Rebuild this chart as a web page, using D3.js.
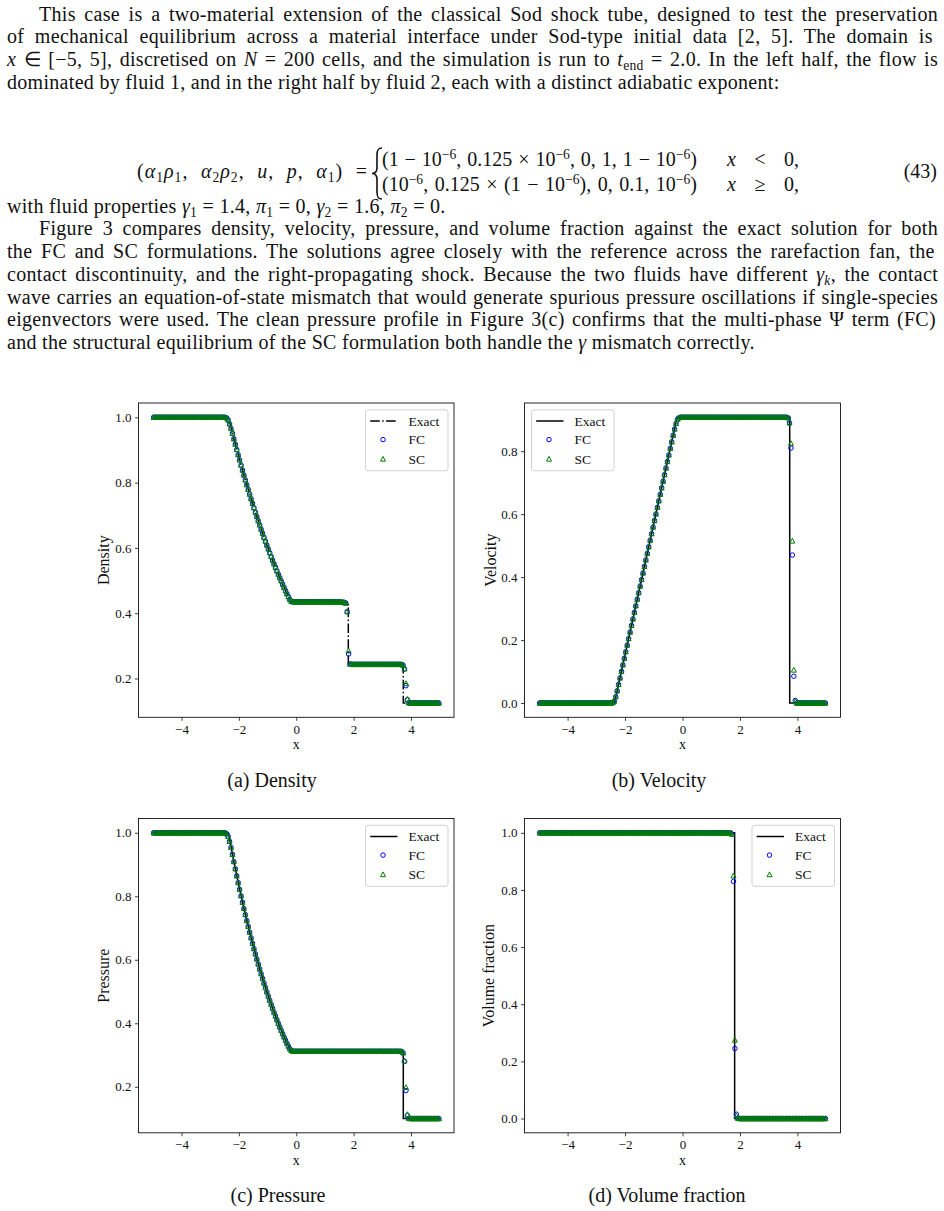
<!DOCTYPE html>
<html><head><meta charset="utf-8">
<script src="https://cdn.jsdelivr.net/npm/d3@7"></script>
<style>
html,body{margin:0;padding:0;background:#fff;}
svg text{font-family:"Liberation Serif","Times New Roman",serif;fill:#111;}
</style></head><body>
<script>
// ---------------- DATA ----------------
const xCells = [
-4.975,-4.925,-4.875,-4.825,-4.775,-4.725,-4.675,-4.625,-4.575,-4.525,
-4.475,-4.425,-4.375,-4.325,-4.275,-4.225,-4.175,-4.125,-4.075,-4.025,
-3.975,-3.925,-3.875,-3.825,-3.775,-3.725,-3.675,-3.625,-3.575,-3.525,
-3.475,-3.425,-3.375,-3.325,-3.275,-3.225,-3.175,-3.125,-3.075,-3.025,
-2.975,-2.925,-2.875,-2.825,-2.775,-2.725,-2.675,-2.625,-2.575,-2.525,
-2.475,-2.425,-2.375,-2.325,-2.275,-2.225,-2.175,-2.125,-2.075,-2.025,
-1.975,-1.925,-1.875,-1.825,-1.775,-1.725,-1.675,-1.625,-1.575,-1.525,
-1.475,-1.425,-1.375,-1.325,-1.275,-1.225,-1.175,-1.125,-1.075,-1.025,
-0.975,-0.925,-0.875,-0.825,-0.775,-0.725,-0.675,-0.625,-0.575,-0.525,
-0.475,-0.425,-0.375,-0.325,-0.275,-0.225,-0.175,-0.125,-0.075,-0.025,
0.025,0.075,0.125,0.175,0.225,0.275,0.325,0.375,0.425,0.475,
0.525,0.575,0.625,0.675,0.725,0.775,0.825,0.875,0.925,0.975,
1.025,1.075,1.125,1.175,1.225,1.275,1.325,1.375,1.425,1.475,
1.525,1.575,1.625,1.675,1.725,1.775,1.825,1.875,1.925,1.975,
2.025,2.075,2.125,2.175,2.225,2.275,2.325,2.375,2.425,2.475,
2.525,2.575,2.625,2.675,2.725,2.775,2.825,2.875,2.925,2.975,
3.025,3.075,3.125,3.175,3.225,3.275,3.325,3.375,3.425,3.475,
3.525,3.575,3.625,3.675,3.725,3.775,3.825,3.875,3.925,3.975,
4.025,4.075,4.125,4.175,4.225,4.275,4.325,4.375,4.425,4.475,
4.525,4.575,4.625,4.675,4.725,4.775,4.825,4.875,4.925,4.975];

const densityFC = [
1,1,1,1,1,1,1,1,1,1, 1,1,1,1,1,1,1,1,1,1, 1,1,1,1,1,1,1,1,1,1, 1,1,1,1,1,1,1,1,1,1, 1,1,1,1,1,1,1,1,1,1,
0.9998,0.998,0.992,0.980,0.966,0.9512,0.9344,0.9178,0.9015,0.8854,
0.8696,0.8539,0.8385,0.8233,0.8084,0.7936,0.7791,0.7648,0.7507,0.7368,
0.7231,0.7096,0.6963,0.6833,0.6704,0.6577,0.6452,0.6329,0.6208,0.6088,
0.5971,0.5855,0.5741,0.5629,0.5519,0.5410,0.5303,0.5198,0.5095,0.4993,
0.4893,0.4794,0.4697,0.4602,0.4510,0.4425,0.4370,0.4352,0.4349,0.4349,
0.4349,0.4349,0.4349,0.4349,0.4349,0.4349,0.4349,0.4349,0.4349,0.4349,
0.4349,0.4349,0.4349,0.4349,0.4349,0.4349,0.4349,0.4349,0.4349,0.4349,
0.4349,0.4349,0.4349,0.4349,0.4349,0.4349,0.4349,0.4349,0.4349,0.4349,
0.4346,0.4342,0.4337,0.4330,0.4310,0.405,0.275,0.2445,0.2434,0.2434,
0.2434,0.2434,0.2434,0.2434,0.2434,0.2434,0.2434,0.2434,0.2434,0.2434,
0.2434,0.2434,0.2434,0.2434,0.2434,0.2434,0.2434,0.2434,0.2434,0.2434,
0.2434,0.2434,0.2434,0.2434,0.2434,0.2434,0.2434,0.2434,0.2434,0.2434,
0.2434,0.2434,0.2433,0.2430,0.241,0.229,0.178,0.135,0.1258,0.125,
0.125,0.125,0.125,0.125,0.125,0.125,0.125,0.125,0.125,0.125,
0.125,0.125,0.125,0.125,0.125,0.125,0.125,0.125,0.125,0.125];

const densitySC = [
1,1,1,1,1,1,1,1,1,1, 1,1,1,1,1,1,1,1,1,1, 1,1,1,1,1,1,1,1,1,1, 1,1,1,1,1,1,1,1,1,1, 1,1,1,1,1,1,1,1,1,1,
0.9998,0.998,0.992,0.980,0.966,0.9512,0.9344,0.9178,0.9015,0.8854,
0.8696,0.8539,0.8385,0.8233,0.8084,0.7936,0.7791,0.7648,0.7507,0.7368,
0.7231,0.7096,0.6963,0.6833,0.6704,0.6577,0.6452,0.6329,0.6208,0.6088,
0.5971,0.5855,0.5741,0.5629,0.5519,0.5410,0.5303,0.5198,0.5095,0.4993,
0.4893,0.4794,0.4697,0.4602,0.4510,0.4425,0.4370,0.4352,0.4349,0.4349,
0.4349,0.4349,0.4349,0.4349,0.4349,0.4349,0.4349,0.4349,0.4349,0.4349,
0.4349,0.4349,0.4349,0.4349,0.4349,0.4349,0.4349,0.4349,0.4349,0.4349,
0.4349,0.4349,0.4349,0.4349,0.4349,0.4349,0.4349,0.4349,0.4349,0.4349,
0.4346,0.4342,0.4337,0.4330,0.4310,0.405,0.285,0.2445,0.2434,0.2434,
0.2434,0.2434,0.2434,0.2434,0.2434,0.2434,0.2434,0.2434,0.2434,0.2434,
0.2434,0.2434,0.2434,0.2434,0.2434,0.2434,0.2434,0.2434,0.2434,0.2434,
0.2434,0.2434,0.2434,0.2434,0.2434,0.2434,0.2434,0.2434,0.2434,0.2434,
0.2434,0.2434,0.2433,0.2430,0.241,0.230,0.185,0.137,0.1258,0.125,
0.125,0.125,0.125,0.125,0.125,0.125,0.125,0.125,0.125,0.125,
0.125,0.125,0.125,0.125,0.125,0.125,0.125,0.125,0.125,0.125];

const velocityFC = [
0,0,0,0,0,0,0,0,0,0, 0,0,0,0,0,0,0,0,0,0, 0,0,0,0,0,0,0,0,0,0, 0,0,0,0,0,0,0,0,0,0, 0,0,0,0,0,0,0,0,0,0,
0.0002,0.0015,0.006,0.020,0.039,0.0590,0.0798,0.1006,0.1215,0.1423,
0.1631,0.1840,0.2048,0.2256,0.2465,0.2673,0.2881,0.3090,0.3298,0.3506,
0.3715,0.3923,0.4131,0.4340,0.4548,0.4756,0.4965,0.5173,0.5381,0.5590,
0.5798,0.6006,0.6215,0.6423,0.6631,0.6840,0.7048,0.7256,0.7465,0.7673,
0.7881,0.8090,0.8298,0.8506,0.8705,0.8880,0.9010,0.9060,0.9076,0.9076,
0.9076,0.9076,0.9076,0.9076,0.9076,0.9076,0.9076,0.9076,0.9076,0.9076,
0.9076,0.9076,0.9076,0.9076,0.9076,0.9076,0.9076,0.9076,0.9076,0.9076,
0.9076,0.9076,0.9076,0.9076,0.9076,0.9076,0.9076,0.9076,0.9076,0.9076,
0.9076,0.9076,0.9076,0.9076,0.9076,0.9076,0.9076,0.9076,0.9076,0.9076,
0.9076,0.9076,0.9076,0.9076,0.9076,0.9076,0.9076,0.9076,0.9076,0.9076,
0.9076,0.9076,0.9076,0.9076,0.9076,0.9076,0.9076,0.9076,0.9076,0.9076,
0.9076,0.9076,0.9076,0.9076,0.9076,0.9076,0.9076,0.9076,0.9076,0.9076,
0.9076,0.9076,0.9076,0.906,0.89,0.81,0.47,0.085,0.008,0,
0,0,0,0,0,0,0,0,0,0,
0,0,0,0,0,0,0,0,0,0];

const velocitySC = [
0,0,0,0,0,0,0,0,0,0, 0,0,0,0,0,0,0,0,0,0, 0,0,0,0,0,0,0,0,0,0, 0,0,0,0,0,0,0,0,0,0, 0,0,0,0,0,0,0,0,0,0,
0.0002,0.0015,0.006,0.020,0.039,0.0590,0.0798,0.1006,0.1215,0.1423,
0.1631,0.1840,0.2048,0.2256,0.2465,0.2673,0.2881,0.3090,0.3298,0.3506,
0.3715,0.3923,0.4131,0.4340,0.4548,0.4756,0.4965,0.5173,0.5381,0.5590,
0.5798,0.6006,0.6215,0.6423,0.6631,0.6840,0.7048,0.7256,0.7465,0.7673,
0.7881,0.8090,0.8298,0.8506,0.8705,0.8880,0.9010,0.9060,0.9076,0.9076,
0.9076,0.9076,0.9076,0.9076,0.9076,0.9076,0.9076,0.9076,0.9076,0.9076,
0.9076,0.9076,0.9076,0.9076,0.9076,0.9076,0.9076,0.9076,0.9076,0.9076,
0.9076,0.9076,0.9076,0.9076,0.9076,0.9076,0.9076,0.9076,0.9076,0.9076,
0.9076,0.9076,0.9076,0.9076,0.9076,0.9076,0.9076,0.9076,0.9076,0.9076,
0.9076,0.9076,0.9076,0.9076,0.9076,0.9076,0.9076,0.9076,0.9076,0.9076,
0.9076,0.9076,0.9076,0.9076,0.9076,0.9076,0.9076,0.9076,0.9076,0.9076,
0.9076,0.9076,0.9076,0.9076,0.9076,0.9076,0.9076,0.9076,0.9076,0.9076,
0.9076,0.9076,0.9076,0.906,0.89,0.825,0.515,0.105,0.006,0,
0,0,0,0,0,0,0,0,0,0,
0,0,0,0,0,0,0,0,0,0];

const pressureFC = [
1,1,1,1,1,1,1,1,1,1, 1,1,1,1,1,1,1,1,1,1, 1,1,1,1,1,1,1,1,1,1, 1,1,1,1,1,1,1,1,1,1, 1,1,1,1,1,1,1,1,1,1,
0.9997,0.997,0.989,0.973,0.954,0.9323,0.9093,0.8868,0.8648,0.8433,
0.8223,0.8017,0.7814,0.7617,0.7424,0.7235,0.7051,0.6870,0.6693,0.6520,
0.6351,0.6186,0.6025,0.5867,0.5713,0.5562,0.5414,0.5270,0.5130,0.4992,
0.4858,0.4727,0.4599,0.4473,0.4351,0.4232,0.4115,0.4001,0.3890,0.3782,
0.3676,0.3573,0.3472,0.3374,0.3282,0.3200,0.3145,0.3123,0.3117,0.3117,
0.3117,0.3117,0.3117,0.3117,0.3117,0.3117,0.3117,0.3117,0.3117,0.3117,
0.3117,0.3117,0.3117,0.3117,0.3117,0.3117,0.3117,0.3117,0.3117,0.3117,
0.3117,0.3117,0.3117,0.3117,0.3117,0.3117,0.3117,0.3117,0.3117,0.3117,
0.3117,0.3117,0.3117,0.3117,0.3117,0.3117,0.3117,0.3117,0.3117,0.3117,
0.3117,0.3117,0.3117,0.3117,0.3117,0.3117,0.3117,0.3117,0.3117,0.3117,
0.3117,0.3117,0.3117,0.3117,0.3117,0.3117,0.3117,0.3117,0.3117,0.3117,
0.3117,0.3117,0.3117,0.3117,0.3117,0.3117,0.3117,0.3117,0.3117,0.3117,
0.3117,0.3117,0.3115,0.3112,0.307,0.280,0.188,0.110,0.1008,0.1,
0.1,0.1,0.1,0.1,0.1,0.1,0.1,0.1,0.1,0.1,
0.1,0.1,0.1,0.1,0.1,0.1,0.1,0.1,0.1,0.1];

const pressureSC = [
1,1,1,1,1,1,1,1,1,1, 1,1,1,1,1,1,1,1,1,1, 1,1,1,1,1,1,1,1,1,1, 1,1,1,1,1,1,1,1,1,1, 1,1,1,1,1,1,1,1,1,1,
0.9997,0.997,0.989,0.973,0.954,0.9323,0.9093,0.8868,0.8648,0.8433,
0.8223,0.8017,0.7814,0.7617,0.7424,0.7235,0.7051,0.6870,0.6693,0.6520,
0.6351,0.6186,0.6025,0.5867,0.5713,0.5562,0.5414,0.5270,0.5130,0.4992,
0.4858,0.4727,0.4599,0.4473,0.4351,0.4232,0.4115,0.4001,0.3890,0.3782,
0.3676,0.3573,0.3472,0.3374,0.3282,0.3200,0.3145,0.3123,0.3117,0.3117,
0.3117,0.3117,0.3117,0.3117,0.3117,0.3117,0.3117,0.3117,0.3117,0.3117,
0.3117,0.3117,0.3117,0.3117,0.3117,0.3117,0.3117,0.3117,0.3117,0.3117,
0.3117,0.3117,0.3117,0.3117,0.3117,0.3117,0.3117,0.3117,0.3117,0.3117,
0.3117,0.3117,0.3117,0.3117,0.3117,0.3117,0.3117,0.3117,0.3117,0.3117,
0.3117,0.3117,0.3117,0.3117,0.3117,0.3117,0.3117,0.3117,0.3117,0.3117,
0.3117,0.3117,0.3117,0.3117,0.3117,0.3117,0.3117,0.3117,0.3117,0.3117,
0.3117,0.3117,0.3117,0.3117,0.3117,0.3117,0.3117,0.3117,0.3117,0.3117,
0.3117,0.3117,0.3115,0.3112,0.307,0.282,0.198,0.113,0.1008,0.1,
0.1,0.1,0.1,0.1,0.1,0.1,0.1,0.1,0.1,0.1,
0.1,0.1,0.1,0.1,0.1,0.1,0.1,0.1,0.1,0.1];

const alphaFC = [
1,1,1,1,1,1,1,1,1,1, 1,1,1,1,1,1,1,1,1,1, 1,1,1,1,1,1,1,1,1,1, 1,1,1,1,1,1,1,1,1,1, 1,1,1,1,1,1,1,1,1,1,
1,1,1,1,1,1,1,1,1,1, 1,1,1,1,1,1,1,1,1,1, 1,1,1,1,1,1,1,1,1,1, 1,1,1,1,1,1,1,1,1,1, 1,1,1,1,1,1,1,1,1,1,
1,1,1,1,1,1,1,1,1,1, 1,1,1,1,1,1,1,1,1,1, 1,1,1,1,1,1,1,1,1,1,
1,1,1,1,0.995,0.83,0.245,0.015,0.001,0,
0,0,0,0,0,0,0,0,0,0, 0,0,0,0,0,0,0,0,0,0, 0,0,0,0,0,0,0,0,0,0,
0,0,0,0,0,0,0,0,0,0, 0,0,0,0,0,0,0,0,0,0, 0,0,0,0,0,0,0,0,0,0];

const alphaSC = [
1,1,1,1,1,1,1,1,1,1, 1,1,1,1,1,1,1,1,1,1, 1,1,1,1,1,1,1,1,1,1, 1,1,1,1,1,1,1,1,1,1, 1,1,1,1,1,1,1,1,1,1,
1,1,1,1,1,1,1,1,1,1, 1,1,1,1,1,1,1,1,1,1, 1,1,1,1,1,1,1,1,1,1, 1,1,1,1,1,1,1,1,1,1, 1,1,1,1,1,1,1,1,1,1,
1,1,1,1,1,1,1,1,1,1, 1,1,1,1,1,1,1,1,1,1, 1,1,1,1,1,1,1,1,1,1,
1,1,1,1,0.995,0.85,0.275,0.01,0.001,0,
0,0,0,0,0,0,0,0,0,0, 0,0,0,0,0,0,0,0,0,0, 0,0,0,0,0,0,0,0,0,0,
0,0,0,0,0,0,0,0,0,0, 0,0,0,0,0,0,0,0,0,0, 0,0,0,0,0,0,0,0,0,0];

const exactX        = [-5,-2.366,-2.2,-2.0,-1.8,-1.6,-1.4,-1.2,-1.0,-0.8,-0.6,-0.4,-0.188,1.815,1.815,3.732,3.732,5];
const exactDensity  = [1,1,0.9428,0.8775,0.8158,0.7577,0.7030,0.6514,0.6030,0.5574,0.5147,0.4746,0.4349,0.4349,0.2434,0.2434,0.125,0.125];
const exactVelocity = [0,0,0.0693,0.1527,0.2360,0.3193,0.4027,0.4860,0.5693,0.6527,0.7360,0.8193,0.9076,0.9076,0.9076,0.9076,0,0];
const exactPressure = [1,1,0.9208,0.8328,0.7521,0.6781,0.6106,0.5488,0.4925,0.4412,0.3946,0.3522,0.3117,0.3117,0.3117,0.3117,0.1,0.1];
const exactAlpha    = [1,1,1,1,1,1,1,1,1,1,1,1,1,1,0,0,0,0];

const xTicks = [-4,-2,0,2,4];
const yTicksDensity  = [0.2,0.4,0.6,0.8,1.0];
const yTicksVelocity = [0,0.2,0.4,0.6,0.8];
const yTicksPressure = [0.2,0.4,0.6,0.8,1.0];
const yTicksAlpha    = [0,0.2,0.4,0.6,0.8,1.0];
const legendLabels = ["Exact","FC","SC"];
const panelTitles = ["Density","Velocity","Pressure","Volume fraction"];
const captions = ["(a) Density","(b) Velocity","(c) Pressure","(d) Volume fraction"];

// ---------------- TEXT ----------------
const W = 944, H = 1211;
const svg = d3.select("body").append("svg").attr("width", W).attr("height", H);
const FS = 20;
const LEFT = 7, RIGHT = 938, INDENT = 39;

function addText(parent, x, y, segs, opts = {}) {
  const fs = opts.fs || FS;
  const t = parent.append("text").attr("x", x).attr("y", y)
    .style("font-size", fs + "px")
    .attr("text-anchor", opts.anchor || "start");
  if (opts.ls) t.style("letter-spacing", opts.ls + "px");
  let shift = 0;
  segs.forEach(s => {
    const [str, st] = s;
    const ts = t.append("tspan").text(str);
    let target = 0;
    if (st && st.includes("s")) target = 0.2 * fs;
    if (st && st.includes("p")) target = -0.36 * fs;
    if (target !== shift) { ts.attr("dy", target - shift); shift = target; }
    if (st && (st.includes("s") || st.includes("p"))) ts.style("font-size", 0.68 * fs + "px");
    if (st && st.includes("i")) ts.style("font-style", "italic");
  });
  if (opts.justify) {
    const natural = t.node().getComputedTextLength();
    const str = segs.map(s => s[0]).join("");
    const n = (str.match(/ /g) || []).length;
    if (n > 0) t.style("word-spacing", ((opts.justify - natural) / n) + "px");
  }
  return t;
}

const LH = 22.7;
const LS = 0.3;
const p1 = [
  [[["This case is a two-material extension of the classical Sod shock tube, designed to test the preservation"]], true, true],
  [[["of mechanical equilibrium across a material interface under Sod-type initial data [2, 5].  The domain is"]], true, false],
  [[["x","i"],[" ∈ [−5, 5], discretised on "],["N","i"],[" = 200 cells, and the simulation is run to "],["t","i"],["end","s"],[" = 2.0. In the left half, the flow is"]], true, false],
  [[["dominated by fluid 1, and in the right half by fluid 2, each with a distinct adiabatic exponent:"]], false, false]
];
p1.forEach((l, i) => {
  const x0 = l[2] ? INDENT : LEFT;
  addText(svg, x0, 20.5 + i * LH, l[0], { justify: l[1] ? RIGHT - x0 : 0, ls: LS });
});

// equation (43)
addText(svg, 137, 178, [["("],["α","i"],["1","s"],["ρ","i"],["1","s"],[", "],["α","i"],["2","s"],["ρ","i"],["2","s"],[", "],["u","i"],[", "],["p","i"],[", "],["α","i"],["1","s"],[") ="]], { ls: 1, justify: 231 });
svg.append("path").attr("fill", "none").attr("stroke", "#111").attr("stroke-width", 1.6)
  .attr("d", (() => { const x = 376, t = 148, b = 199, m = (t + b) / 2;
    return `M${x+6},${t} C${x+2},${t} ${x+1},${t+2} ${x+1},${t+7} L${x+1},${m-6} C${x+1},${m-2} ${x-1},${m} ${x-4},${m} C${x-1},${m} ${x+1},${m+2} ${x+1},${m+6} L${x+1},${b-7} C${x+1},${b-2} ${x+2},${b} ${x+6},${b}`; })());
addText(svg, 382, 166, [["(1 − 10"],["−6","p"],[", 0.125 × 10"],["−6","p"],[", 0, 1, 1 − 10"],["−6","p"],[")"]], { justify: 315 });
addText(svg, 382, 191, [["(10"],["−6","p"],[", 0.125 × (1 − 10"],["−6","p"],["), 0, 0.1, 10"],["−6","p"],[")"]], { justify: 315 });
addText(svg, 727, 166, [["x","i"],[" < 0,"]], { justify: 72 });
addText(svg, 727, 191, [["x","i"],[" ≥ 0,"]], { justify: 72 });
addText(svg, 937, 178, [["(43)"]], { anchor: "end" });

const p2 = [
  [[["with fluid properties "],["γ","i"],["1","s"],[" = 1.4, "],["π","i"],["1","s"],[" = 0, "],["γ","i"],["2","s"],[" = 1.6, "],["π","i"],["2","s"],[" = 0."]], false, false],
  [[["Figure 3 compares density, velocity, pressure, and volume fraction against the exact solution for both"]], true, true],
  [[["the FC and SC formulations.  The solutions agree closely with the reference across the rarefaction fan, the"]], true, false],
  [[["contact discontinuity, and the right-propagating shock. Because the two fluids have different "],["γ","i"],["k","si"],[", the contact"]], true, false],
  [[["wave carries an equation-of-state mismatch that would generate spurious pressure oscillations if single-species"]], true, false],
  [[["eigenvectors were used.  The clean pressure profile in Figure 3(c) confirms that the multi-phase Ψ term (FC)"]], true, false],
  [[["and the structural equilibrium of the SC formulation both handle the "],["γ","i"],[" mismatch correctly."]], false, false]
];
p2.forEach((l, i) => {
  const x0 = l[2] ? INDENT : LEFT;
  addText(svg, x0, 212.7 + i * LH, l[0], { justify: l[1] ? RIGHT - x0 : 0, ls: LS });
});

// ---------------- PANELS ----------------
const panels = [
  { left: 138.5, top: 403, w: 315.5, h: 314.3, exact: exactDensity, fc: densityFC, sc: densitySC, yTicks: yTicksDensity,
    dash: "9.6,2.4,1.5,2.4", legendSide: "right", ylabelX: 103, title: panelTitles[0], cap: captions[0], capX: 272, capY: 787 },
  { left: 524.5, top: 403, w: 316, h: 314.3, exact: exactVelocity, fc: velocityFC, sc: velocitySC, yTicks: yTicksVelocity,
    dash: null, legendSide: "left", ylabelX: 490, title: panelTitles[1], cap: captions[1], capX: 659, capY: 787 },
  { left: 138.5, top: 818.5, w: 315.5, h: 314.3, exact: exactPressure, fc: pressureFC, sc: pressureSC, yTicks: yTicksPressure,
    dash: null, legendSide: "right", ylabelX: 103, title: panelTitles[2], cap: captions[2], capX: 278, capY: 1202 },
  { left: 524.5, top: 818.5, w: 316, h: 314.3, exact: exactAlpha, fc: alphaFC, sc: alphaSC, yTicks: yTicksAlpha,
    dash: null, legendSide: "right", ylabelX: 488, title: panelTitles[3], cap: captions[3], capX: 667, capY: 1202 }
];

const BLUE = "#0000ff", GREEN = "#008000";
const triPath = "M0,-2.6L2.5,2.2L-2.5,2.2Z";
const CR = 2.25, MSW = 1.0;

function pad5(ext) { const d = (ext[1] - ext[0]) * 0.05; return [ext[0] - d, ext[1] + d]; }

panels.forEach(P => {
  const g = svg.append("g");
  const x = d3.scaleLinear().domain(pad5(d3.extent(exactX.concat(xCells)))).range([P.left, P.left + P.w]);
  const y = d3.scaleLinear().domain(pad5(d3.extent(P.exact.concat(P.fc, P.sc)))).range([P.top + P.h, P.top]);

  const line = d3.line().x((d, i) => x(exactX[i])).y(d => y(d));
  const ex = g.append("path").datum(P.exact).attr("d", line)
    .attr("fill", "none").attr("stroke", "#000").attr("stroke-width", 1.5);
  if (P.dash) ex.attr("stroke-dasharray", P.dash);

  g.append("g").selectAll("circle").data(P.fc).join("circle")
    .attr("cx", (d, i) => x(xCells[i])).attr("cy", d => y(d)).attr("r", CR)
    .attr("fill", "none").attr("stroke", BLUE).attr("stroke-width", MSW);
  g.append("g").selectAll("path").data(P.sc).join("path")
    .attr("d", triPath)
    .attr("transform", (d, i) => `translate(${x(xCells[i])},${y(d)})`)
    .attr("fill", "none").attr("stroke", GREEN).attr("stroke-width", MSW);

  const xa = g.append("g").attr("transform", `translate(0,${P.top + P.h})`)
    .call(d3.axisBottom(x).tickValues(xTicks).tickSize(3.5).tickPadding(3.5).tickFormat(d3.format("d")));
  const ya = g.append("g").attr("transform", `translate(${P.left},0)`)
    .call(d3.axisLeft(y).tickValues(P.yTicks).tickSize(3.5).tickPadding(3.5).tickFormat(d3.format(".1f")));
  [xa, ya].forEach(a => {
    a.select(".domain").remove();
    a.selectAll("line").attr("stroke", "#111").attr("stroke-width", 0.8);
    a.selectAll("text").style("font-size", "13px").attr("fill", "#222");
  });

  g.append("rect").attr("x", P.left).attr("y", P.top).attr("width", P.w).attr("height", P.h)
    .attr("fill", "none").attr("stroke", "#111").attr("stroke-width", 0.9);

  g.append("text").attr("x", P.left + P.w / 2).attr("y", P.top + P.h + 32).attr("text-anchor", "middle")
    .style("font-size", "14px").text("x");
  g.append("text").attr("transform", `translate(${P.ylabelX},${P.top + P.h / 2}) rotate(-90)`)
    .attr("dy", "0.35em").attr("text-anchor", "middle").style("font-size", "16px").text(P.title);
  g.append("text").attr("x", P.capX).attr("y", P.capY).attr("text-anchor", "middle")
    .style("font-size", FS + "px").text(P.cap);

  const LW = 82.5, LHh = 61;
  const lx = P.legendSide === "right" ? P.left + P.w - 6 - LW : P.left + 7;
  const ly = P.top + 6.8;
  const lg = g.append("g").attr("transform", `translate(${lx},${ly})`);
  lg.append("rect").attr("width", LW).attr("height", LHh).attr("rx", 2.5)
    .attr("fill", "#fff").attr("fill-opacity", 0.8).attr("stroke", "#cccccc").attr("stroke-width", 0.9);
  const rows = [11.2, 29.8, 49.2];
  const ls = lg.append("line").attr("x1", 4.7).attr("x2", 32).attr("y1", rows[0]).attr("y2", rows[0])
    .attr("stroke", "#000").attr("stroke-width", 1.5);
  if (P.dash) ls.attr("stroke-dasharray", P.dash);
  lg.append("circle").attr("cx", 17.5).attr("cy", rows[1]).attr("r", CR)
    .attr("fill", "none").attr("stroke", BLUE).attr("stroke-width", MSW);
  lg.append("path").attr("d", triPath).attr("transform", `translate(17.5,${rows[2]})`)
    .attr("fill", "none").attr("stroke", GREEN).attr("stroke-width", MSW);
  legendLabels.forEach((lab, i) => {
    lg.append("text").attr("x", 43).attr("y", rows[i]).attr("dy", "0.34em")
      .style("font-size", "13.5px").text(lab);
  });
});
</script>
</body></html>
